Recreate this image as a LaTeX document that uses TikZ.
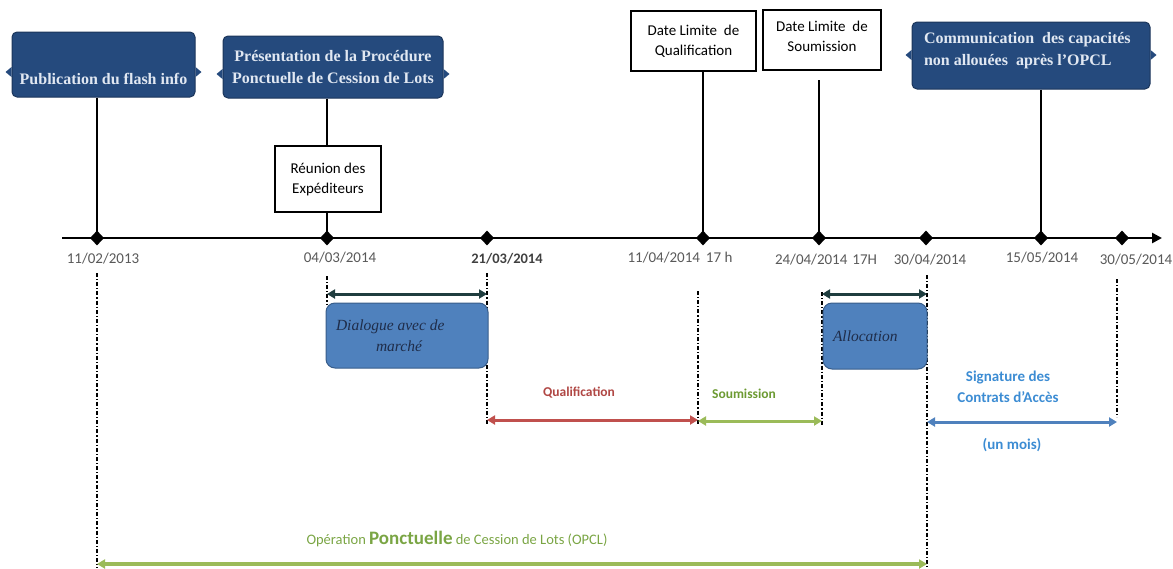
\documentclass[tikz,border=0pt]{standalone}
\usepackage{fontspec}
\setmainfont{Carlito}
\newfontfamily\camb{Liberation Serif}
\usetikzlibrary{shapes.geometric,arrows.meta}
\definecolor{navy}{HTML}{254A7D}
\definecolor{navyedge}{HTML}{1B355A}
\definecolor{navytext}{HTML}{E1E8F2}
\definecolor{dlgfill}{HTML}{4F81BD}
\definecolor{dlgedge}{HTML}{385D8A}
\definecolor{dlgtext}{HTML}{1F2D4A}
\definecolor{darkteal}{HTML}{1F3D3F}
\definecolor{qred}{HTML}{C0504D}
\definecolor{qredtxt}{HTML}{B04744}
\definecolor{sgreen}{HTML}{9BBB59}
\definecolor{sgreentxt}{HTML}{6C9A32}
\definecolor{cblue}{HTML}{4F81BD}
\definecolor{cbluetxt}{HTML}{3C8CD3}
\definecolor{opcltxt}{HTML}{7AA544}
\definecolor{dategray}{HTML}{595959}
\begin{document}
\begin{tikzpicture}[x=1pt,y=-1pt,
  navybox/.style={draw=navyedge, fill=navy, rounded corners=5pt, line width=1pt,
    inner sep=0pt, text=navytext, font=\camb\bfseries\fontsize{16}{22}\selectfont, align=center},
  wbox/.style={draw=black, fill=white, line width=1.6pt, inner sep=0pt,
    font=\fontsize{15}{20}\selectfont, align=center},
  bluebox/.style={draw=dlgedge, fill=dlgfill, rounded corners=9pt, line width=1pt,
    inner sep=0pt, text=dlgtext, font=\camb\itshape\fontsize{15.5}{21}\selectfont, align=center},
  dia/.style={diamond, fill=black, draw=none, inner sep=0pt, minimum width=14pt, minimum height=15pt},
  datelbl/.style={text=dategray, font=\fontsize{15}{17}\selectfont, inner sep=0pt},
  conn/.style={line width=1.6pt, black},
  dashdot/.style={line width=1.4pt, dash pattern=on 4pt off 2pt on 1.2pt off 2pt},
  dbl/.style={{Triangle[length=8pt,width=9pt]}-{Triangle[length=8pt,width=9pt]}, line width=3pt},
]
\useasboundingbox (0,0) rectangle (1173,568);

% ---- axis ----
\coordinate (axs) at (62,238);
\coordinate (axe) at (1162,238);
\draw[line width=2.6pt, -{Triangle[length=10pt,width=10pt]}] (axs) -- (axe);

% ---- diamonds ----
\node[dia] (d1) at (97,238) {};
\node[dia] (d2) at (327,238) {};
\node[dia] (d3) at (487,238) {};
\node[dia] (d4) at (703,238) {};
\node[dia] (d5) at (819,238) {};
\node[dia] (d6) at (926,238) {};
\node[dia] (d7) at (1041,238) {};
\node[dia] (d8) at (1122,238) {};

% ---- date labels ----
\node[datelbl] (t1) at (103,259) {11/02/2013};
\node[datelbl] (t2) at (340,258) {04/03/2014};
\node[datelbl, text=black!75, font=\bfseries\fontsize{14.5}{17}\selectfont] (t3) at (507,259) {21/03/2014};
\node[datelbl] (t4) at (680,258) {11/04/2014\hspace{6pt}17 h};
\node[datelbl] (t5) at (826,260) {24/04/2014\hspace{5pt}17H};
\node[datelbl] (t6) at (930,260) {30/04/2014};
\node[datelbl] (t7) at (1042,258) {15/05/2014};
\node[datelbl] (t8) at (1136,260) {30/05/2014};

% ---- top boxes ----
\node[navybox, minimum width=183pt, minimum height=65pt] (pub) at (103.5,64.5)
  {\parbox[c][40pt][b]{175pt}{\centering Publication du flash info}};
\node[navybox, minimum width=220pt, minimum height=62pt] (pres) at (333,67)
  {Présentation de la Procédure\\Ponctuelle de Cession de Lots};
\node[navybox, minimum width=238pt, minimum height=67pt] (comm) at (1031,55.5)
  {\parbox[c][47pt][t]{214pt}{\raggedright Communication\ \ des capacités\\non allouées\ \ après l’OPCL}};

\fill[navy] (pub.west |- 0,67) -- ++(-6,5) -- ++(6,5) -- cycle;
\fill[navy] (pub.east |- 0,67) -- ++(6,5) -- ++(-6,5) -- cycle;
\fill[navy] (pres.west |- 0,69) -- ++(-6,5) -- ++(6,5) -- cycle;
\fill[navy] (pres.east |- 0,69) -- ++(6,5) -- ++(-6,5) -- cycle;
\fill[navy] (comm.west |- 0,50) -- ++(-6,5) -- ++(6,5) -- cycle;
\fill[navy] (comm.east |- 0,50) -- ++(6,5) -- ++(-6,5) -- cycle;

\node[wbox, minimum width=106pt, minimum height=66pt] (reun) at (328,179)
  {Réunion des\\Expéditeurs};
\node[wbox, minimum width=125pt, minimum height=60pt] (dlq) at (693.5,41)
  {Date Limite\ \ de\\Qualification};
\node[wbox, minimum width=118pt, minimum height=60pt] (dls) at (822,40)
  {\parbox[c][38pt][t]{112pt}{\centering Date Limite\ \ de\\Soumission}};

% ---- vertical connectors ----
\draw[conn] (pub.south -| d1) -- (d1.center);
\draw[conn] (pres.south -| d2) -- (reun.north -| d2);
\draw[conn] (reun.south -| d2) -- (d2.center);
\draw[conn] (dlq.south -| d4) -- (d4.center);
\coordinate (dlsend) at (819,80);
\draw[conn] (dlsend) -- (d5.center);
\draw[conn] (comm.south -| d7) -- (d7.center);

% ---- dash-dot guides ----
\coordinate (v1t) at (97,273);   \coordinate (v1b) at (97,568);
\coordinate (v2t) at (327,276);  \coordinate (v2b) at (327,304);
\coordinate (v3t) at (487,273);  \coordinate (v3b) at (487,424);
\coordinate (v4t) at (698,291);  \coordinate (v4b) at (698,424);
\coordinate (v5t) at (822,292);  \coordinate (v5b) at (822,425);
\coordinate (v6t) at (927,275);  \coordinate (v6b) at (927,568);
\coordinate (v7t) at (1117,279); \coordinate (v7b) at (1117,417);
\draw[dashdot] (v1t) -- (v1b);
\draw[dashdot] (v2t) -- (v2b);
\draw[dashdot] (v3t) -- (v3b);
\draw[dashdot] (v4t) -- (v4b);
\draw[dashdot] (v5t) -- (v5b);
\draw[dashdot, line width=2pt] (v6t) -- (v6b);
\draw[dashdot] (v7t) -- (v7b);

% ---- blue boxes ----
\node[bluebox, minimum width=162pt, minimum height=65pt] (dlg) at (407,335.5)
  {\parbox{150pt}{\raggedright\hspace*{4pt}Dialogue avec de\\\hspace*{44pt}marché}};
\node[bluebox, minimum width=104pt, minimum height=66pt] (alloc) at (875,336)
  {\parbox{96pt}{\raggedright\hspace*{6pt}Allocation}};

% ---- span arrows ----
\coordinate (a1s) at (327,294);  \coordinate (a1e) at (487,294);
\coordinate (a2s) at (822,294);  \coordinate (a2e) at (927,294);
\coordinate (a3s) at (487,420);  \coordinate (a3e) at (698,420);
\coordinate (a4s) at (698,421);  \coordinate (a4e) at (822,421);
\coordinate (a5s) at (927,422);  \coordinate (a5e) at (1117,422);
\coordinate (a6s) at (97,564);   \coordinate (a6e) at (927,564);
\draw[dbl, darkteal] (a1s) -- (a1e);
\draw[dbl, darkteal] (a2s) -- (a2e);
\draw[dbl, qred] (a3s) -- (a3e);
\draw[dbl, sgreen] (a4s) -- (a4e);
\draw[dbl, cblue] (a5s) -- (a5e);
\draw[dbl, sgreen, line width=4pt] (a6s) -- (a6e);

% ---- span labels ----
\node[text=qredtxt, font=\bfseries\fontsize{13.5}{16}\selectfont] (lq) at (579,393) {Qualification};
\node[text=sgreentxt, font=\bfseries\fontsize{13.5}{16}\selectfont] (ls) at (744,394) {Soumission};
\node[text=cbluetxt, font=\bfseries\fontsize{15}{21}\selectfont, align=center] (lsig) at (1008,387) {Signature des\\Contrats d’Accès};
\node[text=cbluetxt, font=\bfseries\fontsize{15}{18}\selectfont] (lmois) at (1012,445) {(un mois)};
\node[text=opcltxt, font=\fontsize{14.5}{17}\selectfont] (lopcl) at (457,539)
  {Opération {\bfseries\fontsize{19}{21}\selectfont Ponctuelle} de Cession de Lots (OPCL)};
\end{tikzpicture}
\end{document}
